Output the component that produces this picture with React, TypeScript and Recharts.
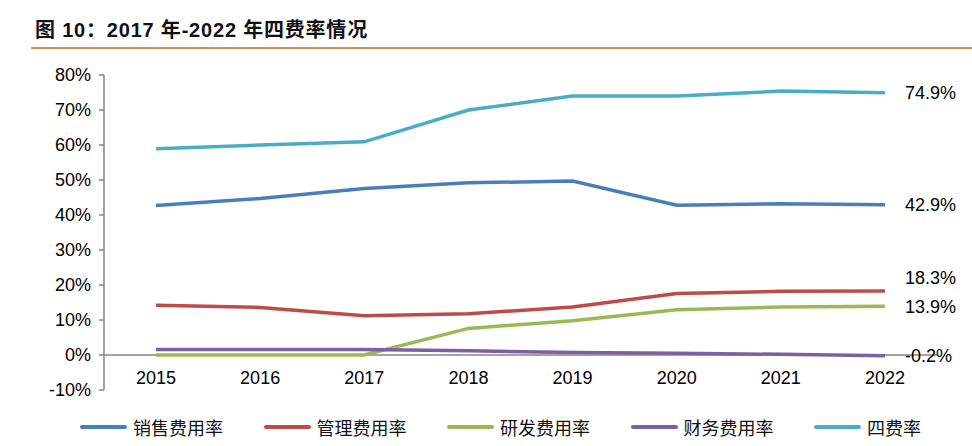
import { LineChart, Line, XAxis, YAxis, ReferenceLine, LabelList } from "recharts";

const years = ["2015", "2016", "2017", "2018", "2019", "2020", "2021", "2022"];
const sales = [42.7, 44.7, 47.6, 49.2, 49.7, 42.8, 43.2, 42.9];
const admin = [14.2, 13.6, 11.2, 11.8, 13.7, 17.6, 18.2, 18.3];
const rnd = [0, 0, 0, 7.6, 9.8, 12.9, 13.7, 13.9];
const finance = [1.6, 1.6, 1.6, 1.2, 0.7, 0.5, 0.2, -0.2];
const total = [58.9, 60.0, 60.9, 70.0, 74.0, 74.0, 75.4, 74.9];
const yTicks = [-10, 0, 10, 20, 30, 40, 50, 60, 70, 80];

const FONT = "'Liberation Sans', Arial, 'Noto Sans CJK SC', sans-serif";

const series = [
  { key: "sales", name: "销售费用率", color: "#4A7EBB", labelDy: 0 },
  { key: "admin", name: "管理费用率", color: "#BE4B48", labelDy: -13 },
  { key: "rnd", name: "研发费用率", color: "#98B954", labelDy: 1 },
  { key: "finance", name: "财务费用率", color: "#7D60A0", labelDy: 0 },
  { key: "total", name: "四费率", color: "#4BACC6", labelDy: 0 },
];

const data = years.map((year, i) => ({
  year,
  sales: sales[i],
  admin: admin[i],
  rnd: rnd[i],
  finance: finance[i],
  total: total[i],
}));

const last = years.length - 1;

function EndLabel(dy: number) {
  return (props: any) => {
    const { x, y, value, index } = props;
    if (index !== last) return null;
    return (
      <text
        x={x + 20}
        y={y + dy}
        dominantBaseline="central"
        fontSize={18}
        fontFamily={FONT}
        fill="#000"
      >
        {`${Number(value).toFixed(1)}%`}
      </text>
    );
  };
}

function YearTick(props: any) {
  const { x, y, payload } = props;
  return (
    <text x={x} y={y - 12} textAnchor="middle" dominantBaseline="central" fontSize={18} fontFamily={FONT} fill="#000">
      {payload.value}
    </text>
  );
}

export default function App() {
  return (
    <div style={{ position: "absolute", left: 0, top: 0, width: 972, height: 446, background: "#fff", fontFamily: FONT }}>
      <div
        style={{
          position: "absolute",
          left: 35,
          top: 17,
          fontSize: 20,
          fontWeight: "bold",
          letterSpacing: 0.8,
          color: "#111",
          whiteSpace: "nowrap",
          lineHeight: "26px",
        }}
      >
        图 10：2017 年-2022 年四费率情况
      </div>
      <div style={{ position: "absolute", left: 31, top: 47, width: 941, height: 2, background: "#C9975C" }} />

      <div style={{ position: "absolute", left: 0, top: 0 }}>
        <LineChart width={972} height={446} data={data} margin={{ top: 75, right: 35, bottom: 26, left: 44 }}>
          <XAxis
            dataKey="year"
            axisLine={false}
            tickLine={false}
            tickSize={0}
            tickMargin={0}
            height={30}
            interval={0}
            padding={{ left: 52, right: 52 }}
            tick={<YearTick />}
          />
          <YAxis
            width={60}
            domain={[-10, 80]}
            ticks={yTicks}
            interval={0}
            tickFormatter={(v: number) => `${v}%`}
            axisLine={{ stroke: "#868686", strokeWidth: 1.5 }}
            tickLine={{ stroke: "#868686", strokeWidth: 1.5 }}
            tickSize={5}
            tickMargin={8}
            tick={{ fontSize: 18, fill: "#000", fontFamily: FONT }}
          />
          <ReferenceLine y={0} stroke="#868686" strokeWidth={1.5} />
          {series.map((s) => (
            <Line
              key={s.key}
              type="linear"
              dataKey={s.key}
              name={s.name}
              stroke={s.color}
              strokeWidth={3.5}
              dot={false}
              isAnimationActive={false}
            >
              <LabelList dataKey={s.key} content={EndLabel(s.labelDy)} />
            </Line>
          ))}
        </LineChart>
      </div>

      {series.map((s, i) => (
        <div
          key={s.key}
          style={{
            position: "absolute",
            left: 80 + i * 183.5,
            top: 414,
            height: 26,
            display: "flex",
            alignItems: "center",
            whiteSpace: "nowrap",
          }}
        >
          <span style={{ display: "inline-block", width: 47, height: 4, borderRadius: 2, background: s.color, marginRight: 6 }} />
          <span style={{ fontSize: 18, color: "#111" }}>{s.name}</span>
        </div>
      ))}
    </div>
  );
}
